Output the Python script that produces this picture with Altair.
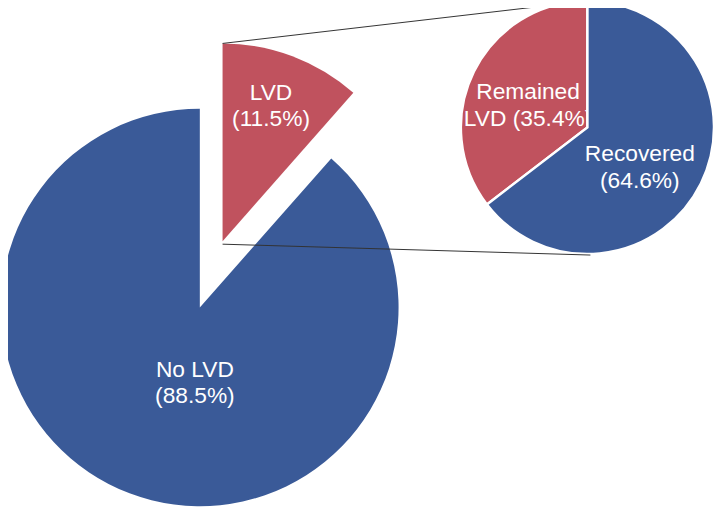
import altair as alt
import pandas as pd

# ---- data -------------------------------------------------------------
big_cats = ["LVD", "No LVD"]
big_vals = [11.5, 88.5]
small_cats = ["Recovered", "Remained LVD"]
small_vals = [64.6, 35.4]

big_labels = [f"LVD\n({big_vals[0]}%)", f"No LVD\n({big_vals[1]}%)"]
small_labels = [f"Recovered\n({small_vals[0]}%)", f"Remained\nLVD ({small_vals[1]}%)"]

# ---- style / layout ---------------------------------------------------
BLUE = "#3A5A98"
RED = "#C0525E"
FONT = "Liberation Sans"
W, H = 713, 503

BIG_C = (194, 300)
BIG_R = 201
EXP_C = (217, 233)      # centre of the pulled-out slice
SMALL_C = (586, 118)
SMALL_R = 128

big_df = pd.DataFrame({"cat": big_cats, "value": big_vals,
                       "k": list(range(len(big_cats))), "label": big_labels})
small_df = pd.DataFrame({"cat": small_cats, "value": small_vals,
                         "k": list(range(len(small_cats))), "label": small_labels})


def pie(df, center, r, show, color, stroke=False):
    kw = dict(radius=r)
    if stroke:
        kw.update(stroke="white", strokeWidth=2.5)
    return alt.Chart(df).mark_arc(**kw).encode(
        theta=alt.Theta("value:Q", stack=True),
        order=alt.Order("k:Q"),
        x=alt.value(center[0]),
        y=alt.value(center[1]),
        color=alt.value(color),
        opacity=alt.condition(f"datum.cat == '{show}'", alt.value(1), alt.value(0)),
    )


def label(df, cat, x, y):
    return alt.Chart(df).transform_filter(f"datum.cat == '{cat}'").mark_text(
        font=FONT, fontSize=23, color="white", align="center",
        baseline="alphabetic", lineHeight=27, lineBreak="\n",
    ).encode(x=alt.value(x), y=alt.value(y), text="label:N")


def rule(x1, y1, x2, y2):
    return alt.Chart(pd.DataFrame({"d": [0]})).mark_rule(
        color="#333333", strokeWidth=1
    ).encode(x=alt.value(x1), y=alt.value(y1), x2=alt.value(x2), y2=alt.value(y2))


layers = [
    pie(big_df, BIG_C, BIG_R, "No LVD", BLUE),
    pie(big_df, EXP_C, BIG_R - 1, "LVD", RED),
    label(big_df, "LVD", 266, 90),
    label(big_df, "No LVD", 189, 370),
    pie(small_df, SMALL_C, SMALL_R, "Remained LVD", RED, stroke=True),
    label(small_df, "Remained LVD", 526, 89),
    pie(small_df, SMALL_C, SMALL_R, "Recovered", BLUE, stroke=True),
    label(small_df, "Recovered", 639, 152),
    rule(EXP_C[0], EXP_C[1] - (BIG_R - 1), SMALL_C[0], SMALL_C[1] - SMALL_R),
    rule(EXP_C[0], EXP_C[1] + 3, SMALL_C[0] + 3, SMALL_C[1] + SMALL_R + 1),
]

chart = alt.layer(*layers).properties(
    width=W, height=H, padding=0,
    autosize=alt.AutoSizeParams(type="none"),
).configure_view(stroke=None)

chart.save("out.html", embed_options={"renderer": "svg", "actions": False})
